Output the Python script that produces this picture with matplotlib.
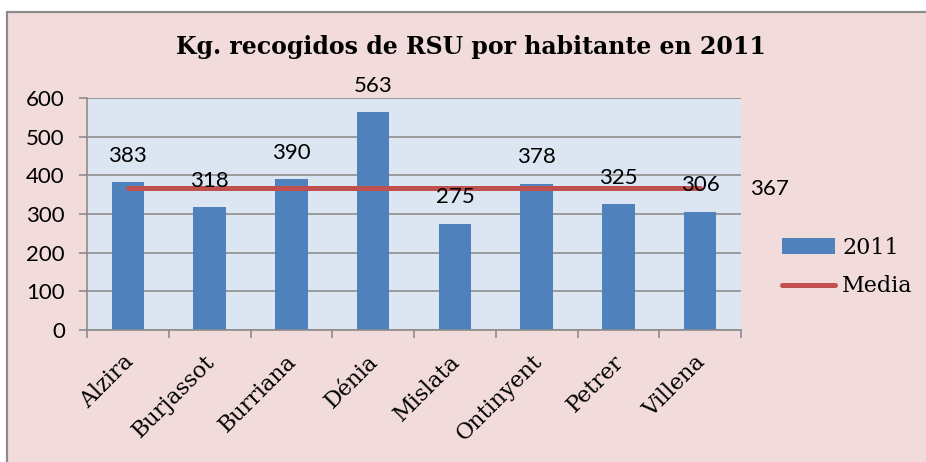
import matplotlib.pyplot as plt
from matplotlib.patches import Rectangle
import numpy as np

ciudades = ['Alzira', 'Burjassot', 'Burriana', 'Dénia', 'Mislata', 'Ontinyent', 'Petrer', 'Villena']
kg_2011 = [383, 318, 390, 563, 275, 378, 325, 306]
media = [367] * 8

W, H = 926, 462
fig = plt.figure(figsize=(W / 100, H / 100), dpi=100)
fig.patch.set_facecolor('white')

# fondo rosa del grafico con borde gris
fondo = Rectangle((7 / W, -0.1), 1.0, 1.1 - 12 / H, transform=fig.transFigure,
                  facecolor='#F2DCDB', edgecolor='#8C8C8C', linewidth=1.6, zorder=-10)
fig.add_artist(fondo)

ax = fig.add_axes([87 / W, 1 - 330 / H, (741 - 87) / W, (330 - 98) / H])
ax.set_facecolor('#DCE6F2')

x = np.arange(len(ciudades))
barras = ax.bar(x, kg_2011, width=0.4, color='#4F81BD', label='2011', zorder=2)
linea, = ax.plot(x, media, color='#C0504D', lw=3.6, solid_capstyle='round', label='Media', zorder=3)

for xi, v in zip(x, kg_2011):
    ax.annotate(str(v), (xi, v), xytext=(0, 19), textcoords='offset points',
                ha='center', va='center', fontsize=16, family='Lato', color='black', zorder=4)
ax.annotate(str(media[-1]), (x[-1], media[-1]), xytext=(36, -1), textcoords='offset points',
            ha='left', va='center', fontsize=16, family='Lato', color='black',
            annotation_clip=False)

ax.set_xlim(-0.5, len(ciudades) - 0.5)
ax.set_ylim(0, 600)
ax.set_yticks(range(0, 601, 100))
ax.yaxis.grid(True, color='#8C8C8C', lw=1.2, zorder=1)
ax.set_axisbelow(True)
for s in ['top', 'right']:
    ax.spines[s].set_visible(False)
for s in ['left', 'bottom']:
    ax.spines[s].set_color('#8C8C8C')
    ax.spines[s].set_linewidth(1.2)

ax.set_xticks(np.arange(-0.5, len(ciudades), 1.0))
ax.set_xticklabels([])
# etiquetas un poco a la izquierda del centro de cada barra
ax.set_xticks(x - 0.07, minor=True)
ax.set_xticklabels(ciudades, minor=True, rotation=45, ha='right', va='top',
                   rotation_mode='anchor', fontsize=16, family='DejaVu Serif')
ax.tick_params(axis='x', which='minor', length=0, pad=15)
ax.tick_params(axis='x', which='major', length=6, color='#8C8C8C', width=1.2)
ax.tick_params(axis='y', length=6, color='#8C8C8C', width=1.2, labelsize=16, pad=10)
for lab in ax.get_yticklabels():
    lab.set_family('Lato')

fig.text(471 / W, 1 - 47 / H, 'Kg. recogidos de RSU por habitante en 2011',
         ha='center', va='center', fontsize=17, fontweight='bold', family='DejaVu Serif')

leg = ax.legend([barras, linea], ['2011', 'Media'], loc='center left',
                bbox_to_anchor=(762 / W, 1 - 267 / H),
                bbox_transform=fig.transFigure, frameon=False, fontsize=16,
                handlelength=2.4, handletextpad=0.3, labelspacing=0.75)
for t in leg.get_texts():
    t.set_family('DejaVu Serif')

fig.savefig('out.png', dpi=100, facecolor=fig.get_facecolor())
